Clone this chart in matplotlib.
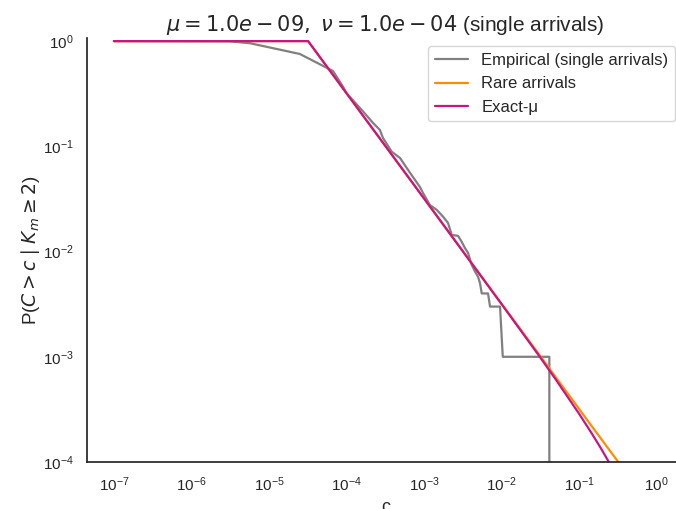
import matplotlib
matplotlib.use("Agg")
import matplotlib.pyplot as plt
import seaborn as sns

# empirical survival curve (single arrivals)
emp_c = [1e-7, 3.1e-6, 5.7e-6, 2.5e-5, 6.7e-5, 9.0e-5, 1.0e-4, 1.57e-4, 2.2e-4, 2.7e-4,
         2.96e-4, 3.83e-4, 4.9e-4, 5.98e-4, 7.2e-4, 8.87e-4, 9.7e-4, 1.19e-3, 1.46e-3,
         1.76e-3, 2.04e-3, 2.28e-3, 2.75e-3, 3.06e-3, 3.38e-3, 3.7e-3, 4.12e-3, 4.55e-3,
         4.98e-3, 5.28e-3, 5.56e-3, 6.7e-3, 7.11e-3, 9.57e-3, 1.038e-2, 4.14e-2, 4.14e-2]
emp_p = [1.0, 0.995, 0.955, 0.755, 0.52, 0.37, 0.32, 0.222, 0.167, 0.143,
         0.120, 0.089, 0.0776, 0.0624, 0.0512, 0.0411, 0.0361, 0.0277, 0.0249,
         0.0215, 0.0187, 0.0144, 0.0141, 0.0124, 0.0108, 0.0097, 0.0075, 0.00645,
         0.00577, 0.0050, 0.0040, 0.0040, 0.0030, 0.0030, 0.0010, 0.0010, 0.0]

# theoretical curves
theory_c = [1e-7, 3.2e-5, 1e-4, 1e-3, 1e-2, 3e-2, 5e-2, 0.1, 0.15, 0.2, 0.25, 0.3, 0.35]
rare_p = [1.0, 1.0, 0.32, 0.032, 0.0032, 1.07e-3, 6.4e-4, 3.2e-4, 2.13e-4, 1.6e-4,
          1.28e-4, 1.07e-4, 9.1e-5]
exact_p = [1.0, 1.0, 0.32, 0.032, 0.00317, 1.04e-3, 6.1e-4, 2.88e-4, 1.81e-4, 1.28e-4,
           9.6e-5, 7.5e-5, 5.9e-5]

sns.set_theme(style="white")
plt.rcParams["font.family"] = ["Liberation Sans", "DejaVu Sans"]

fig = plt.figure(figsize=(6.76, 5.09), dpi=100)
ax = fig.add_axes([0.1287, 0.0923, 0.8825, 0.833])

ax.plot(emp_c, emp_p, color="gray", lw=1.6, label="Empirical (single arrivals)")
ax.plot(theory_c, rare_p, color="darkorange", lw=1.6, label="Rare arrivals")
ax.plot(theory_c, exact_p, color="mediumvioletred", lw=1.6, label="Exact-\u03bc")

ax.set_xscale("log")
ax.set_yscale("log")
ax.set_xlim(4.5e-8, 2.23)
ax.set_ylim(1e-4, 1.07)
ax.set_xlabel("c", fontsize=13)
ax.set_ylabel(r"P($C > c \mid K_m \geq 2$)", fontsize=13.5, labelpad=1)
ax.set_title(r"$\mu = 1.0e-09,\ \nu = 1.0e-04$ (single arrivals)", fontsize=15, pad=5)
ax.legend(loc="upper right", fontsize=12)
sns.despine(ax=ax)

fig.savefig("out.png", dpi=100)
